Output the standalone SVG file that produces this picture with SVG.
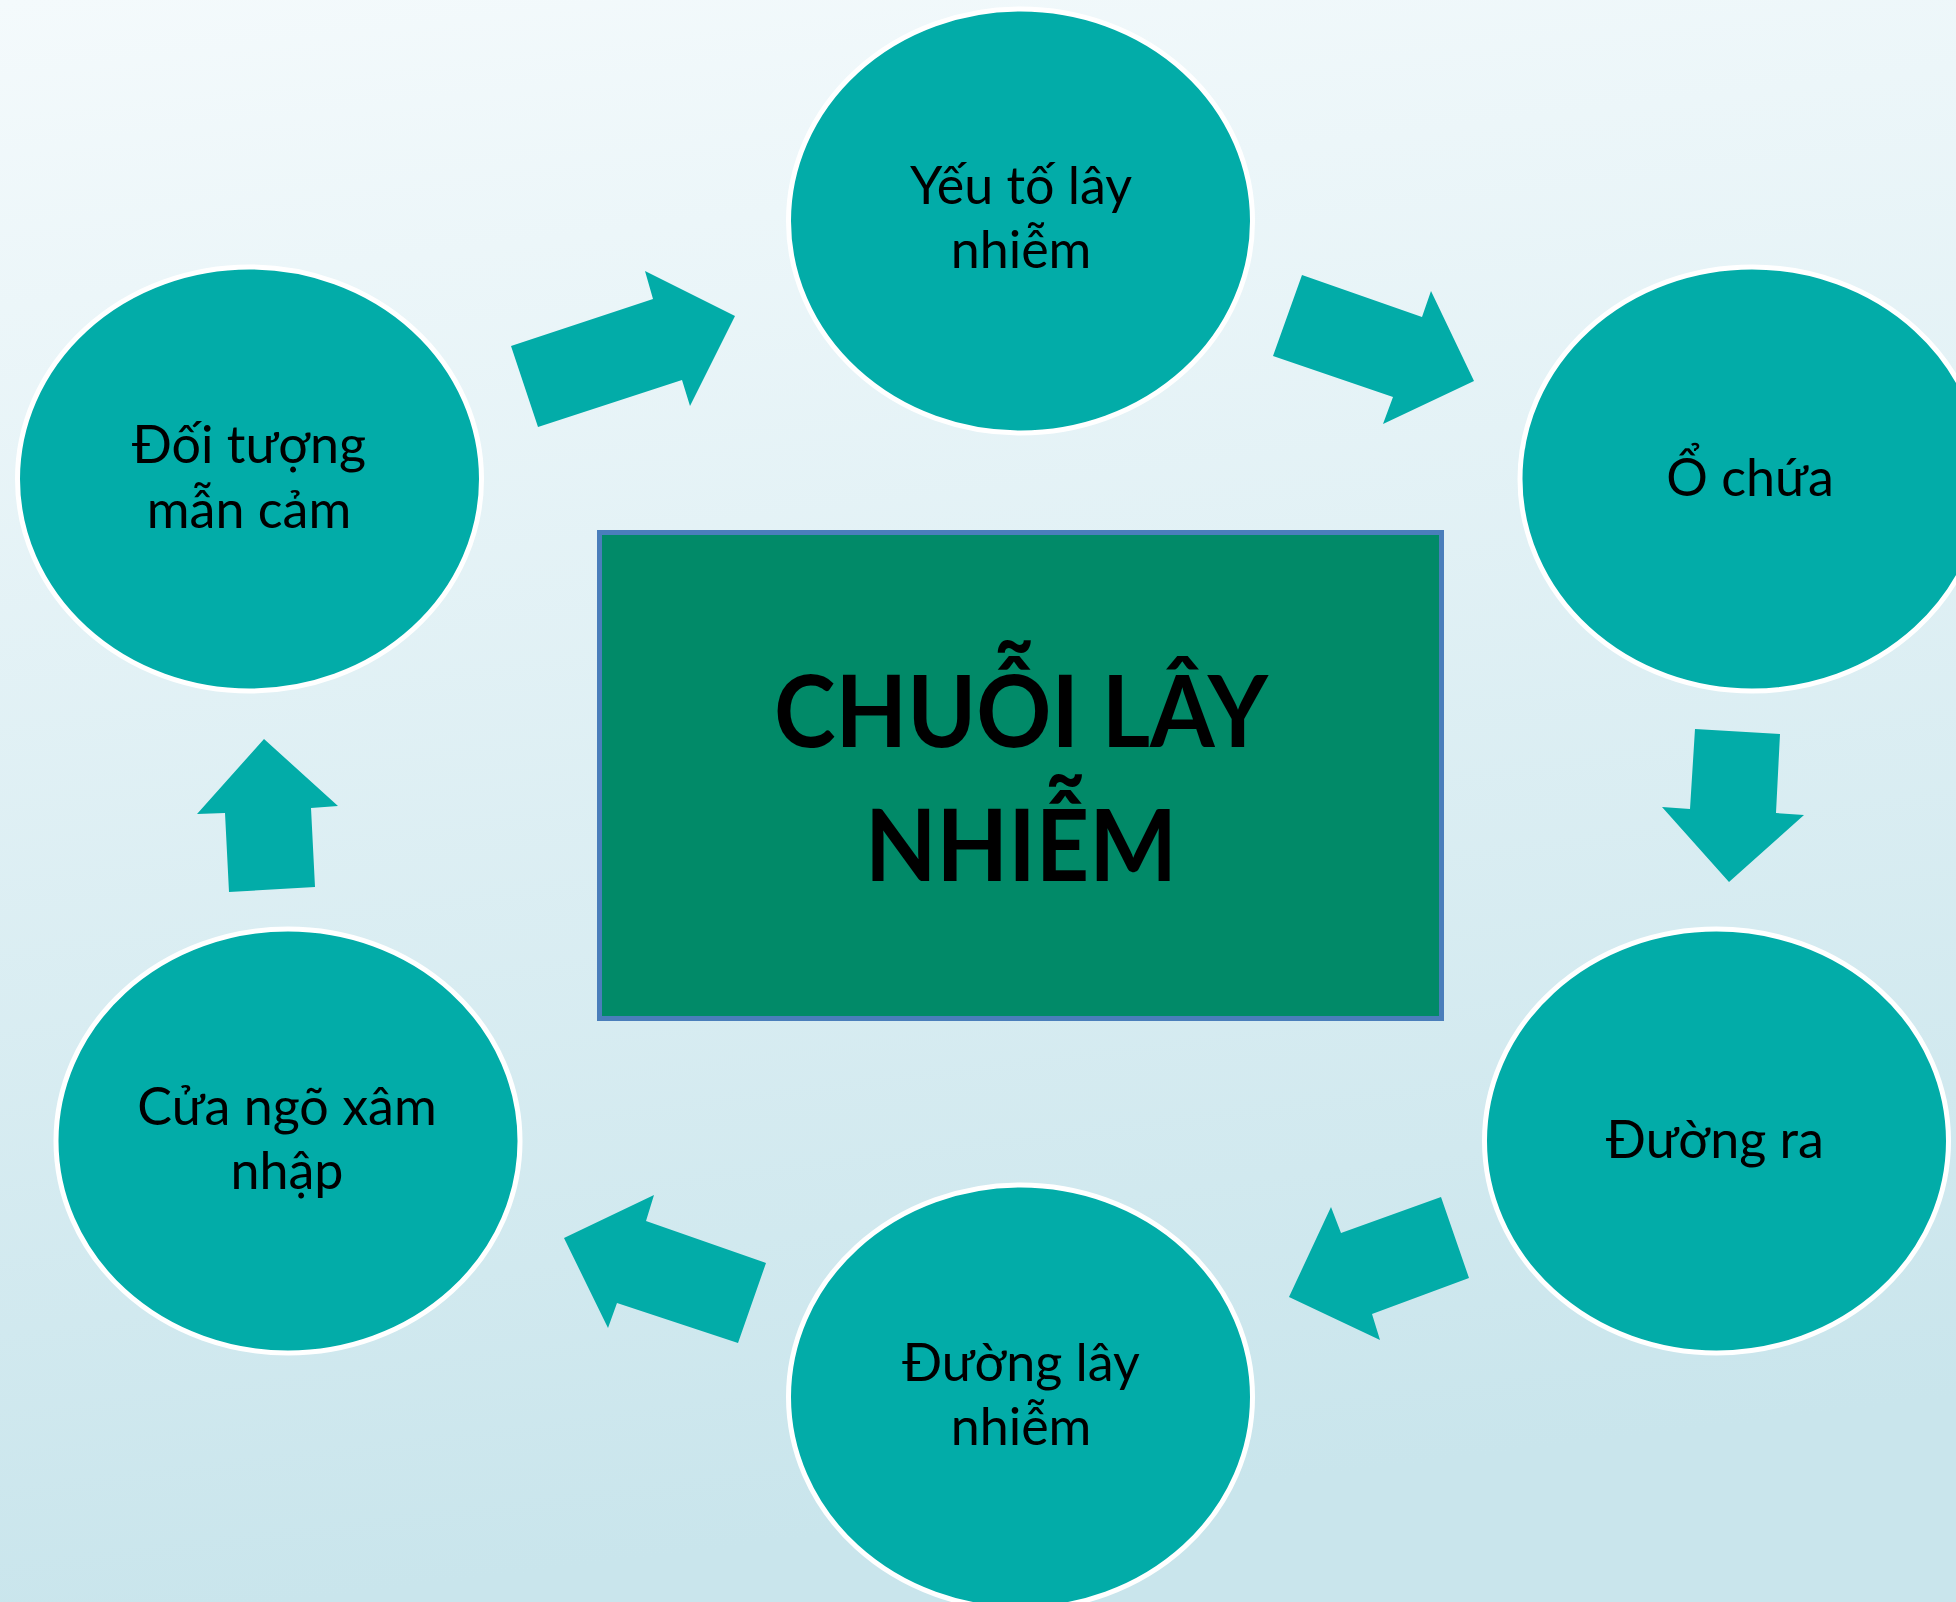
<svg xmlns="http://www.w3.org/2000/svg" width="1956" height="1602" viewBox="0 0 1956 1602">
<defs>
<linearGradient id="bg" x1="0" y1="0" x2="0.15" y2="1">
<stop offset="0" stop-color="#f4fafc"/>
<stop offset="1" stop-color="#c9e5ec"/>
</linearGradient>
<style>
.node ellipse{fill:#02aca8;stroke:#ffffff;stroke-width:5}
.node text{font-family:Lato,"Noto Sans",sans-serif;font-size:52px;fill:#000;text-anchor:middle}
.arrow{fill:#02aca8}
.title{font-family:Lato,"Noto Sans",sans-serif;font-weight:bold;font-size:100px;fill:#000;text-anchor:middle}
</style>
</defs>
<rect x="0" y="0" width="1956" height="1602" fill="url(#bg)"/>

<g id="connectors">
<polygon class="arrow" points="538,427 511,346 653,299 645,271 735,316 690,406 682,380"/>
<polygon class="arrow" points="1302,275 1273,356 1393,397 1383,424 1474,381 1431,291 1422,317"/>
<polygon class="arrow" points="1695,729 1780,734 1776,813 1804,815 1729,882 1662,807 1690,809"/>
<polygon class="arrow" points="1441,1197 1469,1278 1372,1314 1380,1340 1289,1297 1331,1207 1341,1233"/>
<polygon class="arrow" points="766,1263 738,1343 617,1303 608,1328 564,1238 654,1195 646,1221"/>
<polygon class="arrow" points="229,892 315,887 311,808 338,806 264,739 197,814 225,813"/>
</g>

<g id="center">
<rect x="599.5" y="532.5" width="842" height="486" fill="#018a68" stroke="#4a7ebb" stroke-width="5"/>
<text class="title" x="1021" y="747" textLength="494" lengthAdjust="spacingAndGlyphs">CHUỖI LÂY</text>
<text class="title" x="1021" y="881" textLength="312" lengthAdjust="spacingAndGlyphs">NHIỄM</text>
</g>

<g id="node-yeu-to" class="node">
<ellipse cx="1020.5" cy="221" rx="232" ry="212"/>
<text x="1021" y="204">Yếu tố lây</text>
<text x="1021" y="268">nhiễm</text>
</g>

<g id="node-o-chua" class="node">
<ellipse cx="1752" cy="479" rx="232" ry="212"/>
<text x="1750" y="496">Ổ chứa</text>
</g>

<g id="node-duong-ra" class="node">
<ellipse cx="1716.5" cy="1141" rx="232" ry="212"/>
<text x="1715" y="1158">Đường ra</text>
</g>

<g id="node-duong-lay" class="node">
<ellipse cx="1020.5" cy="1397" rx="232" ry="212"/>
<text x="1021" y="1381">Đường lây</text>
<text x="1021" y="1445">nhiễm</text>
</g>

<g id="node-cua-ngo" class="node">
<ellipse cx="288" cy="1141" rx="232" ry="212"/>
<text x="287" y="1125">Cửa ngõ xâm</text>
<text x="287" y="1189">nhập</text>
</g>

<g id="node-doi-tuong" class="node">
<ellipse cx="249.5" cy="479" rx="232" ry="212"/>
<text x="249" y="463">Đối tượng</text>
<text x="249" y="528">mẫn cảm</text>
</g>
</svg>
